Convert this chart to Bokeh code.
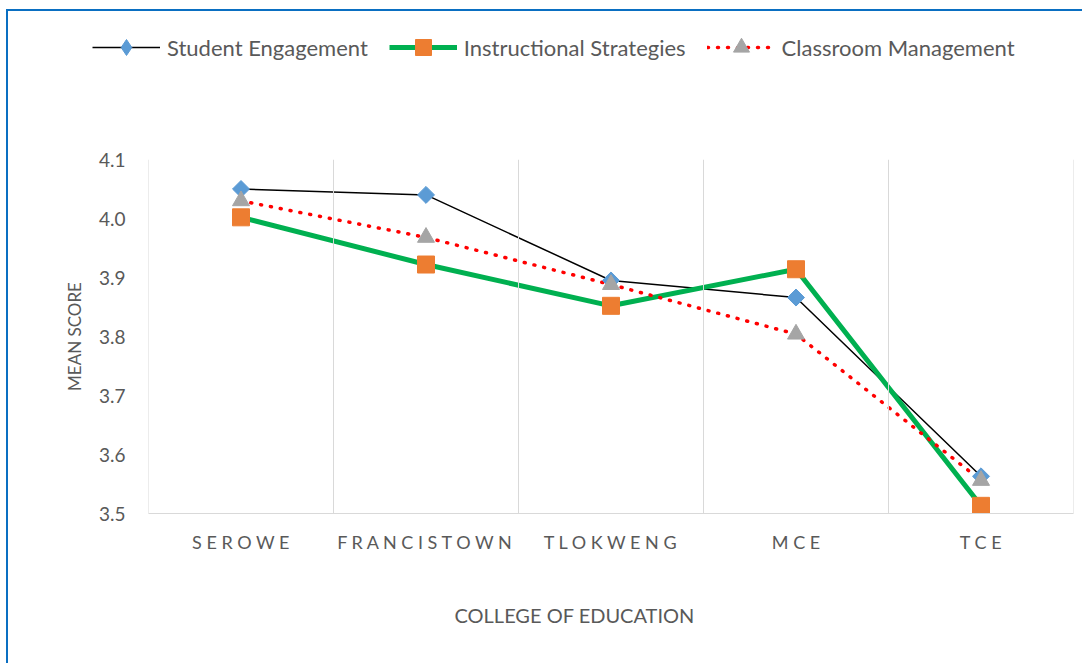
import math
from bokeh.plotting import figure
from bokeh.layouts import column
from bokeh.models import (FactorRange, Range1d, Span, Legend, LegendItem, Title,
                          FixedTicker, NumeralTickFormatter)
from bokeh.embed import file_html
from bokeh.resources import INLINE

# ---- data ----
colleges = ["SEROWE", "FRANCISTOWN", "TLOKWENG", "MCE", "TCE"]
student_engagement = [4.050, 4.040, 3.895, 3.866, 3.563]
instructional_strategies = [4.002, 3.922, 3.852, 3.914, 3.513]
classroom_management = [4.030, 3.968, 3.888, 3.804, 3.556]
y_ticks = [3.5, 3.6, 3.7, 3.8, 3.9, 4.0, 4.1]
series_names = ["Student Engagement", "Instructional Strategies", "Classroom Management"]

FONT = "Lato"
GREY_TXT = "#595959"
BLUE_BORDER = "#0A6FC2"

styles = [
    dict(line_color="black", line_width=1.5, line_dash="solid", line_cap="butt",
         marker="square", size=12, angle=math.pi / 4, fill="#5B9BD5",
         leg_marker="diamond", leg_size=17),
    dict(line_color="#00B050", line_width=5, line_dash="solid", line_cap="butt",
         marker="square", size=17, angle=0, fill="#ED7D31",
         leg_marker="square", leg_size=17),
    dict(line_color="#FF0000", line_width=3.5, line_dash="1 9", line_cap="round",
         marker="triangle", size=17, angle=0, fill="#A5A5A5",
         leg_marker="triangle", leg_size=17),
]
series_values = [student_engagement, instructional_strategies, classroom_management]

x_factors = [" ".join(c) for c in colleges]

LEG_H = 75
TOTAL_W = 140 + 925 + 9

# ---------------- main chart ----------------
p = figure(frame_width=925, frame_height=354,
           x_range=FactorRange(*x_factors), y_range=Range1d(3.5, 4.1),
           output_backend="svg", toolbar_location=None,
           min_border_left=140, min_border_right=9,
           min_border_top=148 - LEG_H, min_border_bottom=140)
p.outline_line_color = None
p.xgrid.visible = False
p.ygrid.visible = False
p.background_fill_color = "white"
p.border_fill_color = "white"

# vertical category separators
for i in range(len(colleges) + 1):
    p.add_layout(Span(location=i, dimension="height", line_color="#D9D9D9", line_width=1))

for vals, st in zip(series_values, styles):
    p.line(x_factors, vals, line_color=st["line_color"], line_width=st["line_width"],
           line_dash=st["line_dash"], line_cap=st["line_cap"])
# markers: diamonds, triangles, then squares on top
for idx in (0, 2, 1):
    st = styles[idx]
    p.scatter(x_factors, series_values[idx], marker=st["marker"], size=st["size"],
              angle=st["angle"], fill_color=st["fill"], line_color=st["fill"])

p.xaxis.axis_line_color = "#D9D9D9"
p.xaxis.major_tick_line_color = None
p.xaxis.minor_tick_line_color = None
p.xaxis.major_label_standoff = 11
p.xaxis.major_label_text_font = FONT
p.xaxis.major_label_text_font_size = "18px"
p.xaxis.major_label_text_color = GREY_TXT

p.add_layout(Title(text="COLLEGE OF EDUCATION", align="left", offset=306,
                   text_font=FONT, text_font_size="20px", text_font_style="normal",
                   text_color=GREY_TXT, standoff=90), "below")

p.yaxis.ticker = FixedTicker(ticks=y_ticks)
p.yaxis.formatter = NumeralTickFormatter(format="0.0")
p.yaxis.axis_line_color = None
p.yaxis.major_tick_line_color = None
p.yaxis.minor_tick_line_color = None
p.yaxis.major_label_standoff = 17
p.yaxis.major_label_text_font = FONT
p.yaxis.major_label_text_font_size = "19px"
p.yaxis.major_label_text_color = GREY_TXT
p.yaxis.axis_label = "MEAN SCORE"
p.yaxis.axis_label_text_font = FONT
p.yaxis.axis_label_text_font_size = "17px"
p.yaxis.axis_label_text_font_style = "normal"
p.yaxis.axis_label_text_color = GREY_TXT
p.yaxis.axis_label_standoff = 11

# ---------------- legend strip ----------------
# series are re-plotted here outside the visible range only so the legend has glyphs
lg = figure(frame_width=TOTAL_W, frame_height=LEG_H, x_range=Range1d(0, 1), y_range=Range1d(0, 1),
            output_backend="svg", toolbar_location=None,
            x_axis_location=None, y_axis_location=None,
            min_border_left=0, min_border_right=0, min_border_top=0, min_border_bottom=0)
lg.outline_line_color = None
lg.xgrid.visible = False
lg.ygrid.visible = False
lg.background_fill_color = "white"
lg.border_fill_color = "white"

items = []
xs_idx = [i + 0.5 for i in range(len(colleges))]
for name, vals, st in zip(series_names, series_values, styles):
    lr = lg.line(xs_idx, vals, line_color=st["line_color"], line_width=st["line_width"],
                 line_dash=st["line_dash"], line_cap=st["line_cap"])
    mr = lg.scatter(xs_idx, vals, marker=st["leg_marker"], size=st["leg_size"],
                    fill_color=st["fill"], line_color=st["fill"])
    items.append(LegendItem(label=name, renderers=[lr, mr]))

legend = Legend(items=items, orientation="horizontal", location=(84, 19),
                border_line_color=None, background_fill_alpha=0,
                glyph_width=68, glyph_height=40, label_standoff=7, spacing=21,
                padding=5, margin=0, label_text_font=FONT, label_text_font_size="22px",
                label_text_color=GREY_TXT)
lg.add_layout(legend)

layout = column(lg, p, spacing=0,
                styles={"border-left": f"2px solid {BLUE_BORDER}",
                        "border-top": f"2px solid {BLUE_BORDER}",
                        "margin-left": "6px", "margin-top": "9px"})

open("out.html", "w").write(file_html(layout, INLINE))
